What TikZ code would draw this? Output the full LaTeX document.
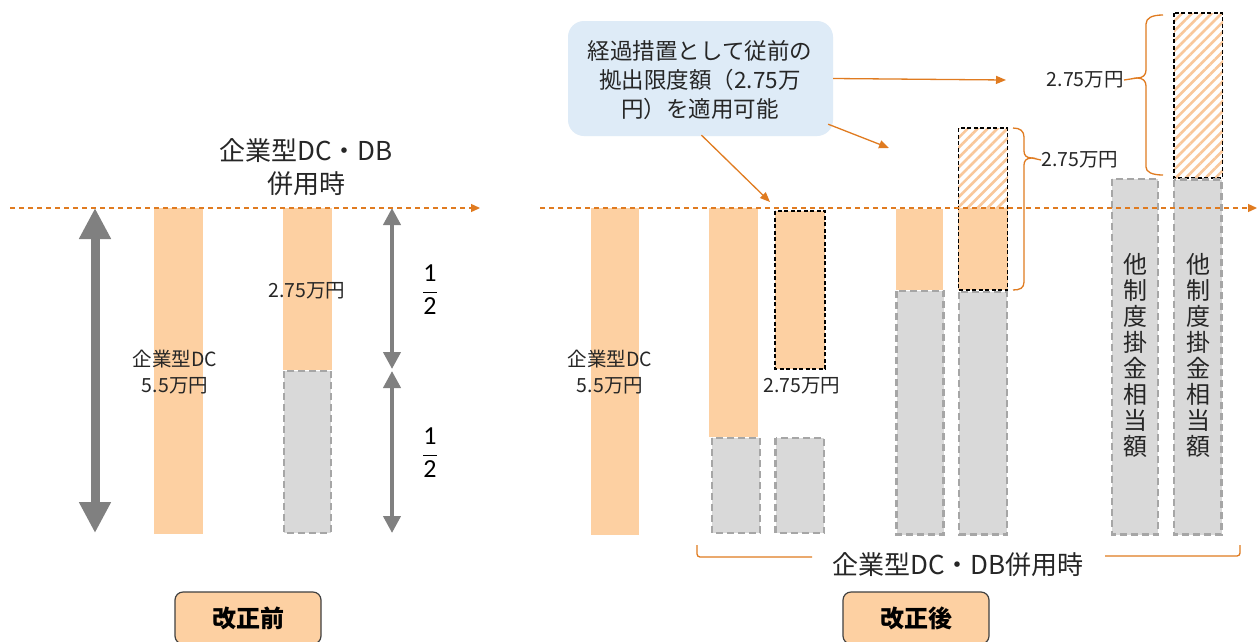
\documentclass[tikz,border=0pt]{standalone}
\usepackage{fontspec}
\setmainfont{Noto Sans CJK JP}
\newfontfamily\calfont{Carlito}
\usetikzlibrary{arrows.meta,patterns.meta}
\definecolor{peach}{HTML}{FDD0A2}
\definecolor{greyfill}{HTML}{D9D9D9}
\definecolor{greyline}{HTML}{A6A6A6}
\definecolor{orangeline}{HTML}{E07B20}
\definecolor{calloutfill}{HTML}{DEEBF7}
\definecolor{arrowgrey}{HTML}{808080}
\definecolor{hatchcol}{HTML}{F9C79A}
\definecolor{txt}{HTML}{262626}
\tikzset{
  orangebar/.style={fill=peach},
  greybar/.style={fill=greyfill, draw=greyline, line width=2.4pt, dash pattern=on 7pt off 4pt},
  blackbox/.style={draw=black, line width=1.2pt, dash pattern=on 4pt off 2.5pt},
  hatchfill/.style={pattern={Lines[angle=45,distance=7pt,line width=2.6pt]}, pattern color=hatchcol},
  levelline/.style={draw=orangeline, line width=1.3pt, dash pattern=on 5pt off 4pt, -{Triangle[length=9pt,width=8pt]}},
  callarrow/.style={draw=orangeline, line width=1.3pt, -{Triangle[length=10pt,width=8pt]}},
  bigarrow/.style={draw=arrowgrey, line width=9pt, {Triangle[length=31pt,width=30pt]}-{Triangle[length=31pt,width=30pt]}},
  midarrow/.style={draw=arrowgrey, line width=4pt, {Triangle[length=17pt,width=17pt]}-{Triangle[length=17pt,width=17pt]}},
  bracecol/.style={draw=orangeline, line width=1.3pt},
  titletext/.style={font=\fontsize{26}{33}\selectfont, text=txt, align=center, inner sep=0pt},
  smalltext/.style={font=\fontsize{19.5}{26}\selectfont, text=txt, align=center, inner sep=0pt},
  calltext/.style={font=\fontsize{22.5}{29}\selectfont, text=txt, align=center},
  vtext/.style={font=\fontsize{24}{26}\selectfont, text=txt, align=center, inner sep=0pt},
  fractext/.style={font=\calfont\fontsize{26}{30}\selectfont, text=black, inner sep=0pt},
  callout/.style={fill=calloutfill, rounded corners=16pt, minimum width=265pt, minimum height=115pt, inner sep=0pt},
  button/.style={fill=peach, draw=black!75, line width=1.2pt, rounded corners=8pt, minimum width=146pt, minimum height=52pt, font=\fontsize{24}{28}\selectfont\bfseries, text=black}
}
\begin{document}
\begin{tikzpicture}[x=1pt,y=-1pt]
\clip (0,0) rectangle (1260,641);
\fill[white] (0,0) rectangle (1260,641);

% ---------------- left panel ----------------
\path[orangebar] (154,208) rectangle (203,534);
\path[orangebar] (283,208) rectangle (332,370);
\path[greybar] (284.2,371) rectangle (331,532.8);

\coordinate (bigtop) at (95,208);
\coordinate (bigbot) at (95,533);
\draw[bigarrow] (bigtop) -- (bigbot);

\coordinate (halftop) at (392,208);
\coordinate (halfmidA) at (392,369);
\coordinate (halfmidB) at (392,371);
\coordinate (halfbot) at (392,533);
\draw[midarrow] (halftop) -- (halfmidA);
\draw[midarrow] (halfmidB) -- (halfbot);

\node[fractext] (fracA) at (430,292) {\begin{tabular}{@{}c@{}}1\\[2pt]\hline\rule{0pt}{22pt}2\end{tabular}};
\node[fractext] (fracB) at (430,455) {\begin{tabular}{@{}c@{}}1\\[2pt]\hline\rule{0pt}{22pt}2\end{tabular}};

\coordinate (levelLs) at (10,208);
\coordinate (levelLe) at (480,208);
\draw[levelline] (levelLs) -- (levelLe);

\node[titletext] (titleL) at (306,167) {企業型DC・DB\\併用時};
\node[smalltext] (dcL) at (175,372) {企業型DC\\5.5万円};
\node[smalltext] (halfL) at (307,291) {2.75万円};

\node[button] (btnBefore) at (248,618) {改正前};

% ---------------- right panel ----------------
% bar A
\path[orangebar] (591,208) rectangle (639,535);
% bar B
\path[orangebar] (709,208) rectangle (758,437);
\path[greybar] (712,438) rectangle (760,533);
% bar C
\path[orangebar] (775,211) rectangle (825,369);
\path[blackbox] (775,211) rectangle (825,369);
\path[greybar] (775.5,438) rectangle (824,533);
% bar D
\path[orangebar] (896,209) rectangle (943,290);
\path[greybar] (896.5,291) rectangle (943.5,534.5);
% bar E
\path[hatchfill] (958,128) rectangle (1008,208);
\path[orangebar] (958,208) rectangle (1008,290);
\path[greybar] (959,292) rectangle (1007,534.5);
\path[blackbox] (958.5,128) rectangle (1007.5,290);
% bar F
\path[greybar] (1112,179) rectangle (1158,534.5);
% bar G
\path[hatchfill] (1174,13) rectangle (1223,178);
\path[blackbox] (1174,13) rectangle (1222.5,178);
\path[greybar] (1174,179.5) rectangle (1221.5,534.5);

\coordinate (levelRs) at (540,208);
\coordinate (levelRe) at (1257,208);
\draw[levelline] (levelRs) -- (levelRe);

\node[smalltext] (dcR) at (610,372) {企業型DC\\5.5万円};
\node[smalltext] (labC) at (802,386) {2.75万円};
\node[vtext] (vtF) at (1135,355) {他\\制\\度\\掛\\金\\相\\当\\額};
\node[vtext] (vtG) at (1198,355) {他\\制\\度\\掛\\金\\相\\当\\額};

% brace E (right brace)
\node[smalltext, anchor=west] (labE) at (1041,160) {2.75万円};
\coordinate (braceEtip) at (1032,158);
\draw[bracecol] (1013,128) .. controls (1020,128) and (1024,131) .. (1024,137) -- (1024,151)
  .. controls (1024,155) and (1026,158) .. (braceEtip)
  .. controls (1026,158) and (1024,161) .. (1024,165) -- (1024,282)
  .. controls (1024,288) and (1020,290) .. (1013,290);
\draw[bracecol] (braceEtip) -- (labE.west);

% brace G (left brace)
\node[smalltext, anchor=east] (labG) at (1124,80) {2.75万円};
\coordinate (braceGtip) at (1137,78);
\draw[bracecol] (1163,15) .. controls (1152,15) and (1146,18) .. (1146,24) -- (1146,70)
  .. controls (1146,75) and (1143,78) .. (braceGtip)
  .. controls (1143,78) and (1146,81) .. (1146,86) -- (1146,167)
  .. controls (1146,172) and (1152,175) .. (1163,175);
\draw[bracecol] (braceGtip) -- (labG.east);

% callout
\node[callout] (callout) at (700.5,78.5) {};
\node[calltext] (calltxt) at (700,80) {経過措置として従前の\\拠出限度額（2.75万\\円）を適用可能};
\coordinate (tgtA) at (1006,80);
\coordinate (tgtB) at (889,148);
\coordinate (tgtC) at (770,202);
\draw[callarrow] (callout.east) -- (tgtA);
\draw[callarrow] ([shift={(-5,-12)}]callout.south east) -- (tgtB);
\draw[callarrow] ([shift={(1,-1)}]callout.south) -- (tgtC);

% bottom bracket
\node[titletext] (botlab) at (958,565) {企業型DC・DB併用時};
\draw[bracecol, rounded corners=3pt] (697,545) -- (697,557) -- (812,557);
\draw[bracecol, rounded corners=3pt] (1105,556) -- (1240,556) -- (1240,545);

\node[button] (btnAfter) at (916,618) {改正後};
\end{tikzpicture}
\end{document}
